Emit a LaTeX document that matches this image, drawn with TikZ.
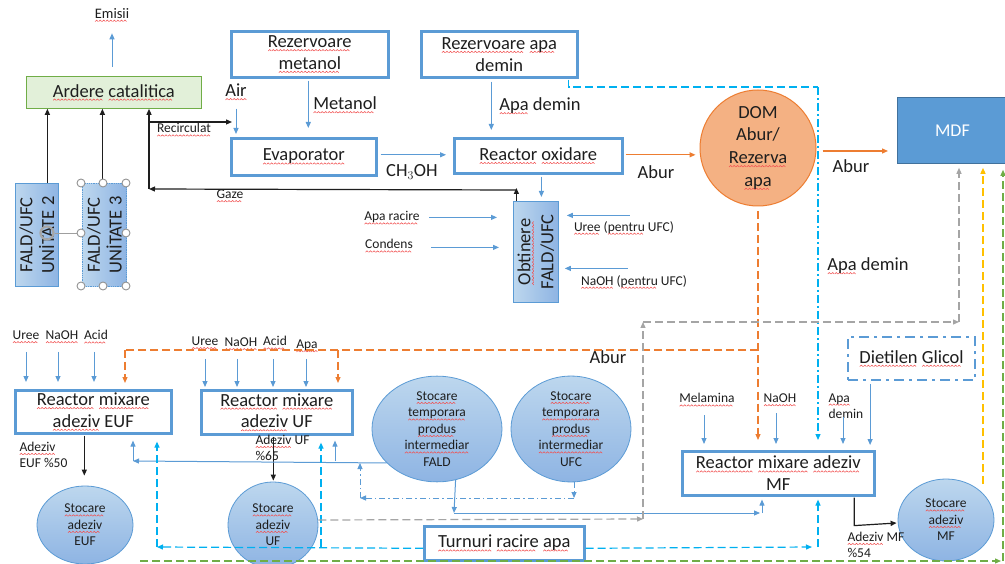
\documentclass[tikz,border=0pt]{standalone}
\usepackage{fontspec}
\setmainfont{Carlito}
\usetikzlibrary{arrows.meta,shapes.geometric,calc}
\definecolor{acc}{HTML}{5B9BD5}
\definecolor{accdk}{HTML}{41719C}
\definecolor{orng}{HTML}{ED7D31}
\definecolor{cyn}{HTML}{00B0F0}
\definecolor{gry}{HTML}{A5A5A5}
\definecolor{yel}{HTML}{FFC000}
\definecolor{grn}{HTML}{70AD47}
\definecolor{grnfill}{HTML}{E2F0D9}
\definecolor{domfill}{HTML}{F4B183}
\definecolor{gradL}{HTML}{BDD7EE}
\definecolor{gradD}{HTML}{8EB4E3}
\definecolor{txt}{HTML}{1E1E1E}
\definecolor{sqred}{HTML}{F25050}
\newsavebox{\wavebox}
\newcommand{\sq}[1]{\setbox0\hbox{#1}\rlap{\lower3.6pt\hbox to \wd0{\leaders\copy\wavebox\hfill}}\box0\relax}
\tikzset{
 bigf/.style={font=\fontsize{18.5}{21.7}\selectfont},
 smallf/.style={font=\fontsize{13.5}{16.5}\selectfont},
 bbox/.style={draw=acc, line width=2.6pt, fill=white, align=center, bigf, inner sep=0pt, anchor=north west},
 gbox/.style={draw=acc, line width=0.8pt, left color=gradL, right color=gradD, inner sep=0pt, anchor=north west},
 tank/.style={ellipse, draw=acc, line width=0.8pt, top color=gradL, bottom color=gradD, inner sep=0pt, align=center, smallf},
 tipa/.style={-{Triangle[length=6pt,width=5pt]}},
 barr/.style={tipa, draw=acc, line width=1pt},
 karr/.style={tipa, draw=txt, line width=1.2pt},
 oarr/.style={tipa, draw=orng, line width=1.2pt},
 odash/.style={draw=orng, line width=1.2pt, dash pattern=on 8pt off 4pt},
 cdash/.style={draw=cyn, line width=1.2pt, dash pattern=on 8pt off 4pt},
 cdd/.style={draw=cyn, line width=1.2pt, dash pattern=on 8pt off 3pt on 2pt off 3pt},
 gdash/.style={draw=gry, line width=1.2pt, dash pattern=on 8pt off 4pt},
 ydash/.style={draw=yel, line width=1.3pt, dash pattern=on 8pt off 4pt},
 grdash/.style={draw=grn, line width=1.2pt, dash pattern=on 8pt off 4pt},
 bdd/.style={draw=acc, line width=1pt, dash pattern=on 6pt off 3pt on 1.5pt off 3pt},
 handle/.style={circle, draw=gray!85, fill=white, line width=0.9pt, inner sep=0pt, minimum size=8}
}
\begin{document}
\sbox{\wavebox}{\pgfpicture\pgfsetlinewidth{0.55pt}\pgfsetstrokecolor{sqred}\pgfpathmoveto{\pgfpoint{0pt}{0pt}}\pgfpathlineto{\pgfpoint{1.5pt}{1.4pt}}\pgfpathlineto{\pgfpoint{3pt}{0pt}}\pgfusepath{stroke}\endpgfpicture}%
\begin{tikzpicture}[x=1pt,y=-1pt, every node/.style={text=txt}]
\useasboundingbox[fill=white] (0,0) rectangle (1005,564);

% ---------- top part ----------
\node[font=\fontsize{14.5}{17}\selectfont] (emisii) at (112,15) {\sq{Emisii}};
\node[anchor=north west, minimum width=175, minimum height=32, draw=grn, fill=grnfill, line width=0.8pt, bigf, inner sep=0pt] (ardere) at (26,76) {\sq{Ardere} \sq{catalitica}};
\node[bbox, minimum width=157, minimum height=46] (rezmet) at (230,30) {\sq{Rezervoare}\\\sq{metanol}};
\node[bbox, minimum width=145, minimum height=37] (evap) at (230,137) {\sq{Evaporator}};
\node[bbox, minimum width=156, minimum height=46] (rezapa) at (420,30) {\sq{Rezervoare} \sq{apa}\\demin};
\node[bbox, minimum width=168, minimum height=35] (reactox) at (453,137) {\sq{Reactor} \sq{oxidare}};
\node[circle, minimum size=116, draw=orng, fill=domfill, line width=1pt, font=\fontsize{18.5}{22.7}\selectfont, align=center, inner sep=0pt] (dom) at (758,148) {DOM\\Abur/\\\sq{Rezerva}\\\sq{apa}};
\node[anchor=north west, minimum width=110, minimum height=66, fill=acc, draw=accdk, line width=0.8pt, inner sep=0pt, font=\fontsize{18}{21}\selectfont, text=white] (mdf) at (897,97) {MDF};

\node[gbox, minimum width=45, minimum height=101] (obt) at (513,201) {};
\node[rotate=90, align=center, font=\fontsize{18.5}{23}\selectfont] at (obt.center) {\sq{Obtinere}\\FALD/UFC};
\node[gbox, minimum width=43, minimum height=103] (u2) at (15,183) {};
\node[rotate=90, align=center, bigf] at (u2.center) {FALD/UFC\\UNİTATE 2};
\node[gbox, minimum width=44, minimum height=103, densely dotted] (u3) at (82,183) {};
\node[rotate=90, align=center, bigf] at (u3.center) {FALD/UFC\\UNİTATE 3};

% labels (top)
\node[bigf] (air) at (236,92) {\sq{Air}};
\node[smallf] (recirc) at (184,130) {\sq{Recirculat}};
\node[smallf] (gaze) at (230,196) {\sq{Gaze}};
\node[bigf] (metanol) at (345,105) {\sq{Metanol}};
\node[bigf] (apadem1) at (540,106) {\sq{Apa} demin};
\node[bigf] (ch3oh) at (412,172) {CH$_3$OH};
\node[bigf] (abur1) at (656,172) {Abur};
\node[bigf] (abur2) at (851,166) {Abur};
\node[bigf] (apadem2) at (868,266) {\sq{Apa} demin};
\node[bigf] (abur3) at (608,357) {Abur};
\node[smallf] (aparac) at (392,218) {\sq{Apa racire}};
\node[smallf] (condens) at (389,246) {\sq{Condens}};
\node[smallf] (ureeufc) at (624,228) {\sq{Uree} (\sq{pentru} UFC)};
\node[smallf] (naohufc) at (634,282) {\sq{NaOH} (\sq{pentru} UFC)};

% ---------- bottom part ----------
\node[bbox, minimum width=156, minimum height=43] (euf) at (14,389) {\sq{Reactor} \sq{mixare}\\\sq{adeziv} EUF};
\node[bbox, minimum width=151, minimum height=44] (uf) at (200,389) {\sq{Reactor} \sq{mixare}\\\sq{adeziv} UF};
\node[bbox, minimum width=192, minimum height=44] (mf) at (681,450) {\sq{Reactor} \sq{mixare} \sq{adeziv}\\MF};
\node[anchor=north west, minimum width=127, minimum height=43, draw=acc, line width=2.2pt, dash pattern=on 10pt off 5pt on 3pt off 5pt, fill=white, bigf, inner sep=0pt] (dieg) at (847,336) {\sq{Dietilen} \sq{Glicol}};
\node[bbox, minimum width=160, minimum height=34] (turn) at (423,525) {\sq{Turnuri} \sq{racire} \sq{apa}};

\node[tank, minimum width=130, minimum height=94] (fald) at (437,429) {\sq{Stocare}\\\sq{temporara}\\\sq{produs}\\\sq{intermediar}\\FALD};
\node[tank, minimum width=120, minimum height=94] (ufc) at (571,429) {\sq{Stocare}\\\sq{temporara}\\\sq{produs}\\\sq{intermediar}\\UFC};
\node[tank, minimum width=96, minimum height=78] (stoceuf) at (85,525) {\sq{Stocare}\\\sq{adeziv}\\EUF};
\node[tank, minimum width=90, minimum height=86] (stocuf) at (273,525) {\sq{Stocare}\\\sq{adeziv}\\UF};
\node[tank, minimum width=96, minimum height=82] (stocmf) at (946,520) {\sq{Stocare}\\\sq{adeziv}\\MF};

\node[smallf] (ue) at (26,337) {\sq{Uree}};
\node[smallf] (ne) at (62,337) {\sq{NaOH}};
\node[smallf] (ae) at (96,337) {\sq{Acid}};
\node[smallf] (uu) at (205,343) {\sq{Uree}};
\node[smallf] (nu) at (241,344) {\sq{NaOH}};
\node[smallf] (au) at (275,343) {\sq{Acid}};
\node[smallf] (pu) at (307,346) {\sq{Apa}};
\node[smallf] (mel) at (707,400) {\sq{Melamina}};
\node[smallf] (nm) at (780,400) {\sq{NaOH}};
\node[smallf, anchor=west, align=left] (apm) at (825,406) {\sq{Apa}\\demin};
\node[smallf, anchor=west, align=left] (ade) at (16,455) {\sq{Adeziv}\\EUF \%50};
\node[smallf, anchor=west, align=left] (adu) at (252,448) {\sq{Adeziv} UF\\\%65};
\node[smallf, anchor=west, align=left] (adm) at (844,545) {\sq{Adeziv} MF\\\%54};

% ---------- connectors (top) ----------
\draw[barr] ($(ardere.north -| emisii)+(0,-9)$) -- ($(emisii.south)+(0,8)$);
\draw[karr] ($(u2.north)+(10.5,0)$) -- ($(u2.north |- ardere.south)+(10.5,0)$);
\draw[karr] ($(u3.north)+(-2,0)$) -- ($(u3.north |- ardere.south)+(-2,0)$);
\coordinate (gz) at (149,189);
\coordinate (rc) at (149,122);
\draw[karr] ($(obt.north)+(-19.5,0)$) -- ($(obt.north)+(-19.5,-13)$);
\draw[karr] ($(obt.north)+(-19.5,-11)$) -- (gz);
\draw[karr] (gz) -- (gz |- ardere.south);
\draw[karr] (rc) -- ($(evap.west |- rc)+(2,0)$);
\draw[barr] ($(air.south)+(0,5)$) -- ($(air |- evap.north)+(0,-3)$);
\draw[barr] ($(rezmet.south)+(-1.5,2)$) -- ($(rezmet.south |- evap.north)+(-1.5,-9)$);
\draw[barr] ($(evap.east)+(3,-2)$) -- ($(evap.east -| reactox.west)+(-7,-2)$);
\draw[barr] ($(rezapa.south)+(-8,3)$) -- ($(rezapa.south |- reactox.north)+(-8,-7)$);
\draw[barr] ($(reactox.south -| obt.north)+(5.5,2)$) -- ($(obt.north)+(5.5,-4)$);
\draw[oarr] ($(reactox.east)+(2,-1)$) -- ($(reactox.east -| dom.west)+(-4,-1)$);
\draw[oarr] ($(dom.east)+(6,3)$) -- ($(dom.east -| mdf.west)+(-9,3)$);
\draw[barr] ($(obt.west)+(-84,-34.5)$) -- ($(obt.west)+(-16,-34.5)$);
\draw[barr] ($(obt.west)+(-82,-4.5)$) -- ($(obt.west)+(-14,-4.5)$);
\draw[barr] ($(obt.east)+(71,-36.5)$) -- ($(obt.east)+(8,-36.5)$);
\draw[barr] ($(obt.east)+(69,16.5)$) -- ($(obt.east)+(6,16.5)$);

% selection handles on unit 3
\draw[gray!75, line width=0.9pt] (55,233) -- (81,233);
\draw[gray!70, line width=2.2pt] (47,233) circle (6.5);
\foreach \p in {(81,183),(103,183),(126,183),(81,233),(126,233),(81,286),(103,286),(126,286)}
  \node[handle] at \p {};

% ---------- connectors (bottom) ----------
\foreach \dx in {12,44,80}
  \draw[barr] ($(euf.north west)+(\dx,-37)$) -- ($(euf.north west)+(\dx,-7)$);
\foreach \dx in {5,37,73,106}
  \draw[barr] ($(uf.north west)+(\dx,-30)$) -- ($(uf.north west)+(\dx,-2)$);
\foreach \dx/\dy in {23/-35,95/-37,162/-33}
  \draw[barr] ($(mf.north west)+(\dx,\dy)$) -- ($(mf.north west)+(\dx,-6)$);
\draw[barr] ($(dieg.south)+(-41.5,3)$) -- ($(dieg.south |- mf.north)+(-41.5,-5)$);

\draw[karr] ($(euf.south)+(-9,1)$) -- ($(euf.south)+(-9,41)$);
\draw[karr] ($(uf.south)+(-3.5,1)$) -- ($(uf.south)+(-3.5,45)$);
\draw[karr] ($(mf.south)+(76,1)$) -- ($(mf.south)+(76,29)$) -- ($(stocmf.west)+(-1,3)$);

% FALD distribution (solid blue)
\coordinate (jL) at (133,461);
\coordinate (jM) at (335,461);
\draw[barr] (fald.214) -- (jL);
\draw[barr] (jL) -- ($(jL |- euf.south)+(0,6)$);
\draw[barr] (jM) -- ($(jM |- uf.south)+(0,5)$);
\coordinate (f1) at (454,513);
\coordinate (f2) at (762,513);
\draw[barr] (fald.290) -- (f1);
\draw[barr] (f1) -- ($(f2)+(-2,0)$);
\draw[barr] (f2) -- ($(f2 |- mf.south)+(0,3)$);

% UFC (dash-dot blue)
\coordinate (d1) at (574,498);
\coordinate (d2) at (360,498);
\draw[bdd, tipa] ($(ufc.south)+(3,0)$) -- (d1);
\draw[bdd, tipa] (d1) -- (d2);
\draw[bdd, tipa] (d2) -- ++(0,-35);

% Turnuri racire (cyan)
\coordinate (c1) at (157,547);
\coordinate (c2) at (321,547);
\coordinate (c3) at (818,547);
\draw[cdash, tipa] ($(turn.west)+(0,5)$) -- (c1);
\draw[cdash, tipa] (c1) -- ($(c1 |- euf.south)+(0,7)$);
\draw[cdash, tipa] (c2) -- ($(c2 |- uf.south)+(0,7)$);
\draw[cdash, tipa] ($(turn.east)+(0,5)$) -- ($(c3)+(-6,0)$);
\draw[cdash, tipa] (c3) -- ($(c3 |- mf.south)+(0,3)$);

% Apa demin (cyan)
\coordinate (c4) at (818,87);
\draw[cdash] ($(rezapa.south east)+(-10,1)$) |- (c4);
\draw[cdd, tipa] (c4) -- ($(c4 |- mf.north)+(0,-10)$);

% Abur (orange dashed)
\coordinate (o1) at (758,350);
\coordinate (o2) at (125,350);
\coordinate (o3) at (338,350);
\draw[odash, tipa] ($(dom.south)+(0,5)$) -- ($(dom.south |- mf.north)+(0,-10)$);
\draw[odash] (o1) -- (o2);
\draw[odash, tipa] (o2) -- ($(o2 |- euf.north)+(0,-6)$);
\draw[odash, tipa] (o3) -- ($(o3 |- uf.north)+(0,-6)$);

% gray dashed to MDF
\coordinate (g1) at (643,519);
\coordinate (g2) at (643,322);
\coordinate (g3) at (959,322);
\draw[gdash, tipa] ($(stocuf.east)+(0,-5)$) -- (g1);
\draw[gdash, tipa] (g1) -- (g2);
\draw[gdash, tipa] (g2) -- (g3);
\draw[gdash, tipa] (g3) -- ($(g3 |- mdf.south)+(0,4)$);

% yellow dashed to MDF
\coordinate (y0) at (983,484);
\draw[ydash, tipa] (y0) -- ($(y0 |- mdf.south)+(0,4)$);

% green dashed
\coordinate (gr0) at (140,561);
\coordinate (gr1) at (1003,561);
\draw[grdash, tipa] (gr0) -- ($(gr1)+(-2,0)$);
\draw[grdash, tipa] (gr1) -- ($(gr1 |- mdf.south)+(0,6)$);
\end{tikzpicture}
\end{document}
